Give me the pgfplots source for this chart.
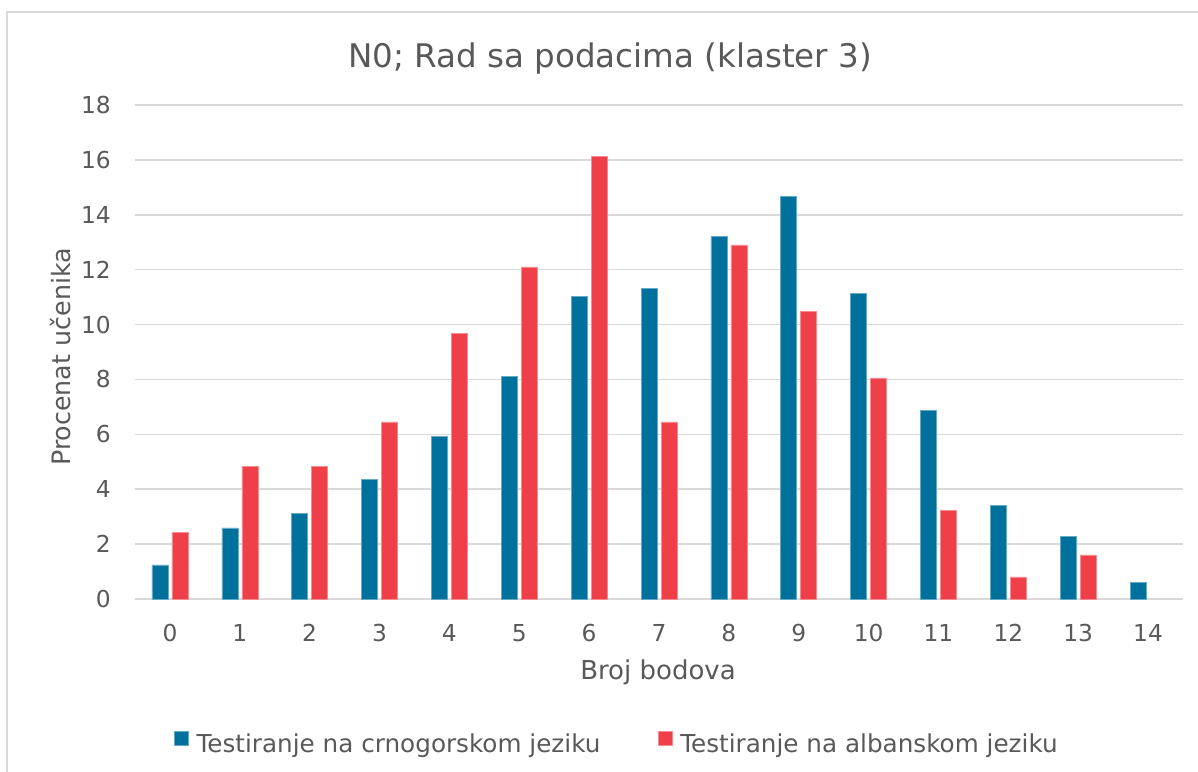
\documentclass[border=0pt]{standalone}
\usepackage{pgfplots}
\pgfplotsset{compat=1.18}
\usepackage{fontspec}
\setmainfont{DejaVu Sans}
\definecolor{cblue}{RGB}{0,112,156}
\definecolor{cred}{RGB}{239,64,74}
\definecolor{tgray}{RGB}{89,89,89}
\definecolor{ggray}{RGB}{217,217,217}
\begin{document}
\begin{tikzpicture}
\begin{axis}[
  at={(101.25pt,129pt)}, anchor=south west,
  scale only axis, width=786pt, height=370.5pt,
  xmin=-0.5, xmax=14.5, ymin=0, ymax=18,
  ybar=3pt, bar width=12pt,
  axis line style={draw=none},
  ymajorgrids, grid style={ggray, line width=1.1pt},
  ytick={0,2,...,18}, xtick={0,...,14},
  major tick length=0pt,
  tick label style={font=\fontsize{17.5}{20}\selectfont, text=tgray},
  yticklabel style={anchor=east, inner sep=0pt, xshift=-18pt},
  xticklabel style={anchor=base, inner sep=0pt, yshift=-32pt},
  /pgf/number format/assume math mode=true,
  legend columns=2,
  legend image code/.code={\fill[#1] (0pt,-1.5pt) rectangle (10.5pt,9pt);},
  legend style={draw=none, fill=none, inner sep=0pt, outer sep=0pt,
    font=\fontsize{18.5}{22}\selectfont, text=tgray,
    at={(0.0372,-0.3139)}, anchor=south west,
    column sep=6pt, nodes={inner sep=0pt},
    /tikz/every even column/.append style={column sep=43pt}},
]
\addplot[fill=cblue, draw=cblue!60!white, line width=0.4pt] coordinates {
(0,1.24) (1,2.59) (2,3.12) (3,4.37) (4,5.93) (5,8.12) (6,11.03) (7,11.33)
(8,13.22) (9,14.68) (10,11.14) (11,6.86) (12,3.41) (13,2.28) (14,0.61)};
\addplot[fill=cred, draw=cred!60!white, line width=0.4pt] coordinates {
(0,2.42) (1,4.84) (2,4.84) (3,6.45) (4,9.68) (5,12.10) (6,16.13) (7,6.45)
(8,12.90) (9,10.48) (10,8.06) (11,3.23) (12,0.81) (13,1.61)};
\legend{Testiranje na crnogorskom jeziku, Testiranje na albanskom jeziku}
\end{axis}
\node[font=\fontsize{24.4}{29}\selectfont, text=tgray, anchor=base] at (457.5pt,527.25pt) {N0; Rad sa podacima (klaster 3)};
\node[font=\fontsize{19.5}{23}\selectfont, text=tgray, anchor=base] at (493.5pt,68.8pt) {Broj bodova};
\node[font=\fontsize{19}{23}\selectfont, text=tgray, anchor=base, rotate=90] at (52.5pt,310.5pt) {Procenat učenika};
\draw[ggray, line width=1.1pt] (5.25pt,-5pt) -- (5.25pt,569.25pt) -- (905pt,569.25pt);
\pgfresetboundingbox
\path[use as bounding box] (0pt,0pt) rectangle (898.5pt,578.25pt);
\end{tikzpicture}
\end{document}
